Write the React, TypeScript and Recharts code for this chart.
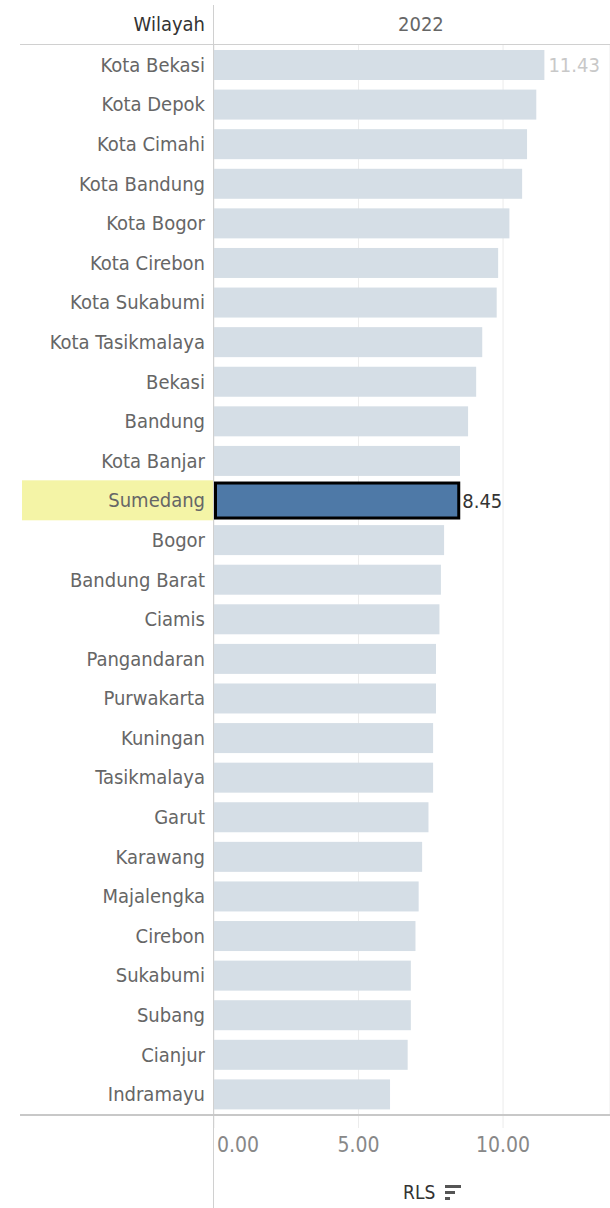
import { BarChart, Bar, XAxis, YAxis, CartesianGrid, Cell, LabelList } from 'recharts'

const wilayah = [
  'Kota Bekasi', 'Kota Depok', 'Kota Cimahi', 'Kota Bandung', 'Kota Bogor', 'Kota Cirebon',
  'Kota Sukabumi', 'Kota Tasikmalaya', 'Bekasi', 'Bandung', 'Kota Banjar', 'Sumedang',
  'Bogor', 'Bandung Barat', 'Ciamis', 'Pangandaran', 'Purwakarta', 'Kuningan',
  'Tasikmalaya', 'Garut', 'Karawang', 'Majalengka', 'Cirebon', 'Sukabumi',
  'Subang', 'Cianjur', 'Indramayu',
]

const rls = [
  11.43, 11.15, 10.83, 10.66, 10.22, 9.83,
  9.78, 9.28, 9.07, 8.79, 8.51, 8.45,
  7.96, 7.85, 7.8, 7.68, 7.68, 7.58,
  7.58, 7.42, 7.2, 7.08, 6.97, 6.81,
  6.81, 6.7, 6.09,
]

const xTicks = [0, 5, 10]
const selected = 'Sumedang'
const year = '2022'

const data = wilayah.map((w, i) => ({ wilayah: w, rls: rls[i] }))

const font = '"DejaVu Sans Condensed", "Liberation Sans Narrow", "Roboto", sans-serif'

function YTick(props: any) {
  const { y, payload } = props
  const isSel = payload.value === selected
  return (
    <g>
      {isSel && <rect x={22} y={y - 20} width={191} height={40} fill="#f4f4a6" />}
      <text x={205} y={y + 7} textAnchor="end" fill="#666" fontSize={20} fontFamily={font}>
        {payload.value}
      </text>
    </g>
  )
}

function XTick(props: any) {
  const { x, y, payload } = props
  const anchor = payload.value === 0 ? 'start' : 'middle'
  return (
    <text x={payload.value === 0 ? x + 3 : x} y={y + 22} textAnchor={anchor} fill="#888" fontSize={21} fontFamily={font}>
      {payload.value.toFixed(2)}
    </text>
  )
}

function BarShape(props: any) {
  const { x, y, width, height, payload } = props
  if (payload.wilayah === selected) {
    return (
      <rect x={x + 1.5} y={y - 2.5} width={width - 1} height={height + 5} fill="#4e79a7" stroke="#000" strokeWidth={3} />
    )
  }
  return <rect x={x} y={y} width={width} height={height} fill="#d5dee6" />
}

function ValueLabel(props: any) {
  const { x, y, width, height, index, value } = props
  const w = wilayah[index]
  if (index !== 0 && w !== selected) return null
  const color = w === selected ? '#333' : '#c8c8c8'
  return (
    <text x={x + width + 4} y={y + height / 2 + 7} fill={color} fontSize={20} fontFamily={font}>
      {value.toFixed(2)}
    </text>
  )
}

export default function App() {
  return (
    <div style={{ position: 'absolute', left: 0, top: 0, width: 610, height: 1208, background: '#fff', fontFamily: font }}>
      <BarChart
        width={610}
        height={1208}
        data={data}
        layout="vertical"
        margin={{ top: 45, right: 0, bottom: 0, left: 0 }}
        barSize={30}
      >
        <CartesianGrid horizontal={false} stroke="#ececec" />
        <XAxis
          type="number"
          domain={[0, 13.7]}
          ticks={xTicks}
          allowDataOverflow
          axisLine={false}
          height={94}
          tickSize={14}
          tickLine={{ stroke: '#ececec' }}
          tick={<XTick />}
        />
        <YAxis
          type="category"
          dataKey="wilayah"
          width={214}
          axisLine={false}
          tickLine={false}
          tick={<YTick />}
          interval={0}
        />
        <Bar dataKey="rls" isAnimationActive={false} shape={<BarShape />}>
          {data.map((d, i) => (
            <Cell key={`c-${i}`} fill={d.wilayah === selected ? '#4e79a7' : '#d5dee6'} />
          ))}
          <LabelList dataKey="rls" content={<ValueLabel />} />
        </Bar>
      </BarChart>

      {/* header and frame lines */}
      <div style={{ position: 'absolute', left: 213, top: 5, width: 1, height: 1203, background: '#d0d0d0' }} />
      <div style={{ position: 'absolute', left: 20, top: 44, width: 590, height: 1, background: '#d0d0d0' }} />
      <div style={{ position: 'absolute', left: 20, top: 1114, width: 590, height: 2, background: '#c8c8c8' }} />
      <div style={{ position: 'absolute', right: 405, top: 11, fontSize: 20, color: '#333', lineHeight: '26px' }}>Wilayah</div>
      <div style={{ position: 'absolute', left: 398, top: 11, fontSize: 20, color: '#666', lineHeight: '26px' }}>{year}</div>
      <div style={{ position: 'absolute', left: 403, top: 1179, fontSize: 19, color: '#333', lineHeight: '26px', display: 'flex', alignItems: 'center' }}>
        RLS
        <span style={{ display: 'inline-block', marginLeft: 10, width: 16, position: 'relative', height: 14 }}>
          <span style={{ position: 'absolute', left: 0, top: 0, width: 16, height: 3, background: '#555' }} />
          <span style={{ position: 'absolute', left: 0, top: 6, width: 10, height: 3, background: '#555' }} />
          <span style={{ position: 'absolute', left: 0, top: 12, width: 5, height: 3, background: '#555' }} />
        </span>
      </div>
    </div>
  )
}
